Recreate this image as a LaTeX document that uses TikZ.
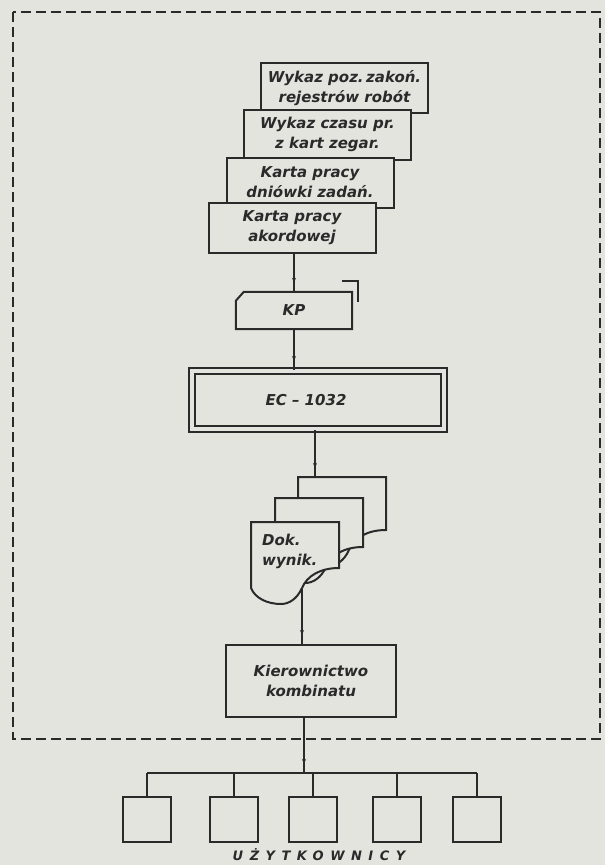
\documentclass[tikz,border=0pt]{standalone}
\usepackage{fontspec}
\setmainfont{DejaVu Sans}
\usepackage{tikz}
\usetikzlibrary{arrows.meta,positioning,decorations.markings}
\definecolor{paper}{HTML}{E4E4DF}
\definecolor{ink}{HTML}{2A2A2A}

\begin{document}
\begin{tikzpicture}[x=1pt,y=-1pt]
\tikzstyle{every node}=[font=\fontsize{15}{20}\selectfont\bfseries\itshape,text=ink]
\tikzstyle{card}=[rectangle,draw=ink,line width=2pt,fill=paper,minimum width=167pt,minimum height=50pt,align=center,inner sep=0pt]
\tikzstyle{user}=[rectangle,draw=ink,line width=2.2pt,minimum width=48pt,minimum height=45pt]
\tikzstyle{flow}=[draw=ink,line width=1.3pt,postaction={decorate},decoration={markings,mark=at position -9pt with {\arrow{Stealth[length=5pt,width=4pt]}}}]
\fill[paper] (0,0) rectangle (605,865);
\useasboundingbox (0,0) rectangle (605,865);
% granica systemu
\draw[ink,line width=1.6pt,dash pattern=on 10pt off 5pt] (13,12) rectangle (600,739);
% dokumenty wejsciowe
\node[card] (wpz) at (344.5,88) {Wykaz poz.\,zakoń.\\rejestrów robót};
\node[card] (wcp) at (327.5,134.5) {Wykaz czasu pr.\\z kart zegar.};
\node[card] (kpd) at (310,182.5) {Karta pracy\\dniówki zadań.};
\node[card] (kpa) at (292,228) {Karta pracy\\akordowej};
% karta perforowana
\node[minimum width=116pt,minimum height=37pt,inner sep=0pt] (kp) at (294,310.5) {KP};
\draw[ink,line width=2pt] ([yshift=-9pt]kp.north west) -- ([xshift=8pt]kp.north west) -- (kp.north east) -- (kp.south east) -- (kp.south west) -- cycle;
\draw[ink,line width=2pt] ([xshift=-10pt,yshift=11pt]kp.north east) -- ([xshift=6pt,yshift=11pt]kp.north east) -- ([xshift=6pt,yshift=-10pt]kp.north east);
% komputer
\node[draw=ink,line width=2pt,double=paper,double distance=3.5pt,minimum width=252pt,minimum height=58pt] (ec) at (318,400) {\hspace*{-24pt}EC -- 1032};
% dokumenty wynikowe
\foreach \x/\y/\h in {298/477/53,275/498/49,251/522/46}
  \draw[ink,line width=2pt,fill=paper] (\x,\y) -- ({\x+88},\y) -- ({\x+88},{\y+\h})
    .. controls ({\x+69},{\y+\h}) and ({\x+56},{\y+\h+8}) .. ({\x+51},{\y+\h+20})
    .. controls ({\x+46},{\y+\h+31}) and ({\x+38},{\y+\h+36}) .. ({\x+30},{\y+\h+36})
    .. controls ({\x+16},{\y+\h+36}) and ({\x+4},{\y+\h+30}) .. (\x,{\y+\h+20}) -- cycle;
\node[align=left,anchor=west,inner sep=0pt] (dok) at (262,551) {Dok.\\wynik.};
\coordinate (docin) at (315,477);
\coordinate (docout) at (302,589);
% kierownictwo
\node[draw=ink,line width=2pt,minimum width=170pt,minimum height=72pt,align=center] (kk) at (311,681) {Kierownictwo\\kombinatu};
% uzytkownicy
\coordinate (bus) at (304,773);
\foreach \i/\ux in {1/147,2/234,3/313,4/397,5/477}
  \node[user] (u\i) at (\ux,819.5) {};
\node (uz) at (319,855) {\fontsize{13}{15}\selectfont\addfontfeature{LetterSpace=50}UŻYTKOWNICY};
% polaczenia
\draw[flow] (kpa.south -| kp.north) -- (kp.north);
\draw[flow] (kp.south) -- (kp.south |- ec.north);
\draw[flow] (ec.south -| docin) -- (docin);
\draw[flow] (docout) -- (docout |- kk.north);
\draw[flow] (bus |- kk.south) -- (bus);
\draw[ink,line width=1.3pt] (u1.north |- bus) -- (u5.north |- bus);
\foreach \i in {1,...,5}
  \draw[ink,line width=1.3pt] (u\i.north |- bus) -- (u\i.north);
\end{tikzpicture}
\end{document}
